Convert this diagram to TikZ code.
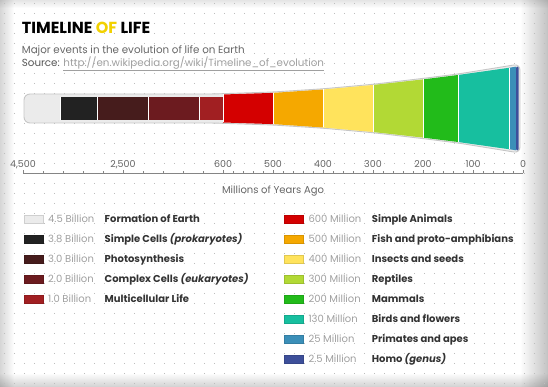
\documentclass[tikz,border=0pt]{standalone}
\usepackage{fontspec}
\setmainfont{Poppins}
\usetikzlibrary{fadings}

\definecolor{ofyellow}{HTML}{F2D100}
\definecolor{txtdark}{HTML}{333333}
\definecolor{txtgray}{HTML}{666666}
\definecolor{txtlight}{HTML}{A0A0A0}
\definecolor{earth}{HTML}{EBEBEB}
\definecolor{cell}{HTML}{222222}
\definecolor{photo}{HTML}{461C1C}
\definecolor{complex}{HTML}{6C1B1F}
\definecolor{multi}{HTML}{A11F22}
\definecolor{animal}{HTML}{D40000}
\definecolor{fish}{HTML}{F5A800}
\definecolor{insect}{HTML}{FFE35C}
\definecolor{reptile}{HTML}{B2D935}
\definecolor{mammal}{HTML}{22BB1A}
\definecolor{bird}{HTML}{17BF9F}
\definecolor{primate}{HTML}{3B8FB8}
\definecolor{homo}{HTML}{3D4F9A}

\begin{document}
\begin{tikzpicture}[x=1pt, y=-1pt, >=latex,
  dotc/.style={fill=black!26},
  txt/.style={inner sep=0pt, anchor=base west},
  title/.style={txt, font=\fontsize{16}{18}\selectfont\bfseries},
  subtitle/.style={txt, text=txtgray, font=\fontsize{10.3}{12}\selectfont},
  amount/.style={txt, text=txtlight, font=\fontsize{10}{12}\selectfont},
  event/.style={txt, text=txtdark, font=\fontsize{10}{12}\selectfont\bfseries},
  axislabel/.style={inner sep=0pt, anchor=base, text=txtgray, font=\fontsize{9.5}{11}\selectfont},
  envelope/.style={fill=earth, draw=black!22, line width=.9pt},
  sep/.style={white, line width=1pt},
  swatch/.style={line width=.4pt}]
\useasboundingbox (0,0) rectangle (548,387);
\fill[white] (0,0) rectangle (548,387);
% shadow round the card
\fill[black, opacity=.16, path fading=east] (0,0) rectangle (14,387);
\fill[black, opacity=.24, path fading=west] (520,0) rectangle (548,387);
\fill[black, opacity=.10, path fading=south] (0,0) rectangle (548,8);
\fill[black, opacity=.18, path fading=north] (0,373) rectangle (548,387);
% dotted paper
\foreach \i in {0,...,54}
  \foreach \j in {0,...,38}
    \fill[dotc] ({4+10*\i},{3+10*\j}) rectangle ++(1.1,1.1);

% heading
\node[title] (title) at (21.7,33.3) {TIMELINE \textcolor{ofyellow}{OF} LIFE};
\node[subtitle] (sub) at (21.7,53.3) {Major events in the evolution of life on Earth};
\node[subtitle] (src) at (21.7,66.3) {\textcolor{txtgray!85!black}{Source:} \textcolor{txtlight}{\underline{http://en.wikipedia.org/wiki/Timeline\_of\_evolution}}};

% the bar
\draw[envelope, rounded corners=6pt] (120,94) -- (213,94) -- (273,92) -- (323,88.8) -- (373,84.3)
  -- (423,78.4) -- (458,74) -- (520,64) -- (520,153) -- (458,143) -- (423,138.6)
  -- (373,132.7) -- (323,128.2) -- (273,125) -- (213,123) -- (24,123) -- (24,94) -- cycle;
\foreach \a/\b/\c in {60/97.5/cell, 97.5/148.5/photo, 148.5/199.5/complex, 199.5/223/multi}{
  \fill[\c] (\a,96.8) rectangle (\b,120.2);
  \draw[sep] (\a,96.8) -- (\a,120.2);
}
\foreach \a/\ha/\b/\hb/\c in {223/14/273/15.6/animal, 273/15.6/323/19/fish, 323/19/373/23.5/insect,
    373/23.5/423/29.1/reptile, 423/29.1/458/33.5/mammal, 458/33.5/509/40.7/bird, 509/40.7/516/41.8/primate}{
  \fill[\c] (\a,{108.5-\ha}) -- (\b,{108.5-\hb}) -- (\b,{108.5+\hb}) -- (\a,{108.5+\ha}) -- cycle;
  \draw[sep] (\a,{108.5-\ha}) -- (\a,{108.5+\ha});
}
\fill[homo, rounded corners=1.2pt] (516,66.7) -- (518.6,66.4) -- (518.6,150.6) -- (516,150.3) -- cycle;

% axis
\draw[txtgray!80, line width=.9pt] (23,173.3) -- (523,173.3);
\foreach \x in {43,63,...,203} \draw[txtgray!80, line width=.7pt] (\x,173.3) -- ++(0,-2);
\foreach \x in {233,243,...,513} \draw[txtgray!80, line width=.7pt] (\x,173.3) -- ++(0,-2);
\foreach \x/\v in {23/{4,500}, 123/{2,500}, 223/600, 273/500, 323/400, 373/300, 423/200, 473/100, 523/0}{
  \draw[txtgray!80, line width=.8pt] (\x,173.3) -- ++(0,-3.5);
  \node[axislabel] (ax\x) at (\x,167.3) {\v};
}
\node[axislabel, font=\fontsize{10}{12}\selectfont] (unit) at (273,193.3) {Millions of Years Ago};

% key
\foreach \c/\n/\t [count=\k] in {earth/4.5 Billion/Formation of Earth,
    cell/3.8 Billion/{Simple Cells \textit{(prokaryotes)}},
    photo/3.0 Billion/Photosynthesis,
    complex/2.0 Billion/{Complex Cells \textit{(eukaryotes)}},
    multi/1.0 Billion/Multicellular Life}{
  \filldraw[swatch, fill=\c, draw=\c!88!black] (24,{215+20*(\k-1)}) rectangle ++(19,8);
  \node[amount] (amtL\k) at (48,{222.7+20*(\k-1)}) {\n};
  \node[event] (evL\k) at (104.5,{222.7+20*(\k-1)}) {\t};
}
\foreach \c/\n/\t [count=\k] in {animal/600 Million/Simple Animals,
    fish/500 Million/Fish and proto-amphibians,
    insect/400 Million/Insects and seeds,
    reptile/300 Million/Reptiles,
    mammal/200 Million/Mammals,
    bird/130 Million/Birds and flowers,
    primate/25 Million/Primates and apes,
    homo/2.5 Million/{Homo \textit{(genus)}}}{
  \filldraw[swatch, fill=\c, draw=\c!88!black] (284,{215+20*(\k-1)}) rectangle ++(19,8);
  \node[amount] (amtR\k) at (308.3,{222.7+20*(\k-1)}) {\n};
  \node[event] (evR\k) at (371.7,{222.7+20*(\k-1)}) {\t};
}
\end{tikzpicture}
\end{document}
